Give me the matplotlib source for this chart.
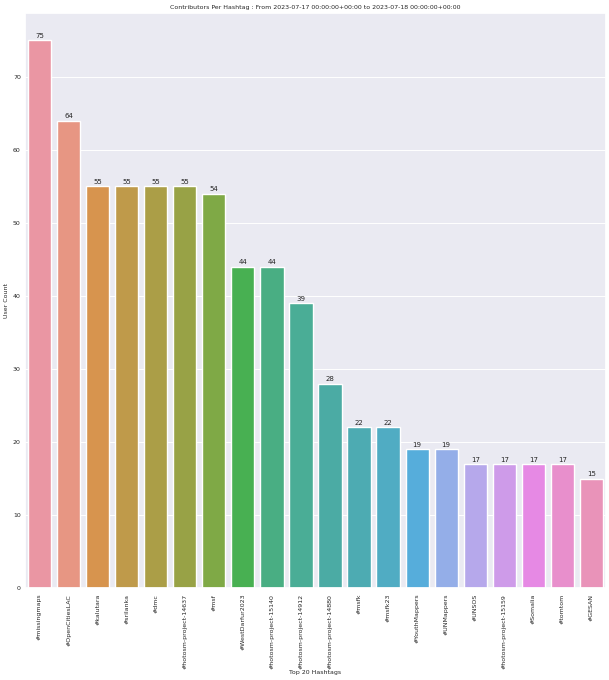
import matplotlib
matplotlib.use("Agg")
import matplotlib.pyplot as plt
import seaborn as sns
import pandas as pd

hashtags = ["#missingmaps", "#OpenCitiesLAC", "#kalutara", "#srilanka", "#dmc",
            "#hotosm-project-14637", "#msf", "#WestDarfur2023", "#hotosm-project-15140",
            "#hotosm-project-14912", "#hotosm-project-14880", "#msfk", "#msfk23",
            "#YouthMappers", "#UNMappers", "#UNSOS", "#hotosm-project-15159",
            "#Somalia", "#tomtom", "#GESAN"]
user_counts = [75, 64, 55, 55, 55, 55, 54, 44, 44, 39, 28, 22, 22, 19, 19, 17, 17, 17, 17, 15]

df = pd.DataFrame({"hashtag": hashtags, "users": user_counts})

sns.set_theme(style="darkgrid", rc={"grid.linewidth": 0.7})

fig = plt.figure(figsize=(6.09, 6.80), dpi=100)
ax = fig.add_axes([0.041, 0.135, 0.954, 0.846])
colors = sns.husl_palette(len(hashtags), l=0.7)
sns.barplot(data=df, x="hashtag", y="users", hue="hashtag", palette=colors,
            saturation=0.75, legend=False, ax=ax)

for container in ax.containers:
    ax.bar_label(container, fontsize=5, padding=1)

ax.set_title("Contributors Per Hashtag : From 2023-07-17 00:00:00+00:00 to 2023-07-18 00:00:00+00:00",
             fontsize=4.5, pad=3)
ax.set_xlabel("Top 20 Hashtags", fontsize=4.5, labelpad=1)
ax.set_ylabel("User Count", fontsize=4.5, labelpad=3)
ax.tick_params(axis="x", labelrotation=90, labelsize=4.5, pad=4, length=0)
ax.tick_params(axis="y", labelsize=4.5, pad=3, length=0)

fig.savefig("out.png", dpi=100)
